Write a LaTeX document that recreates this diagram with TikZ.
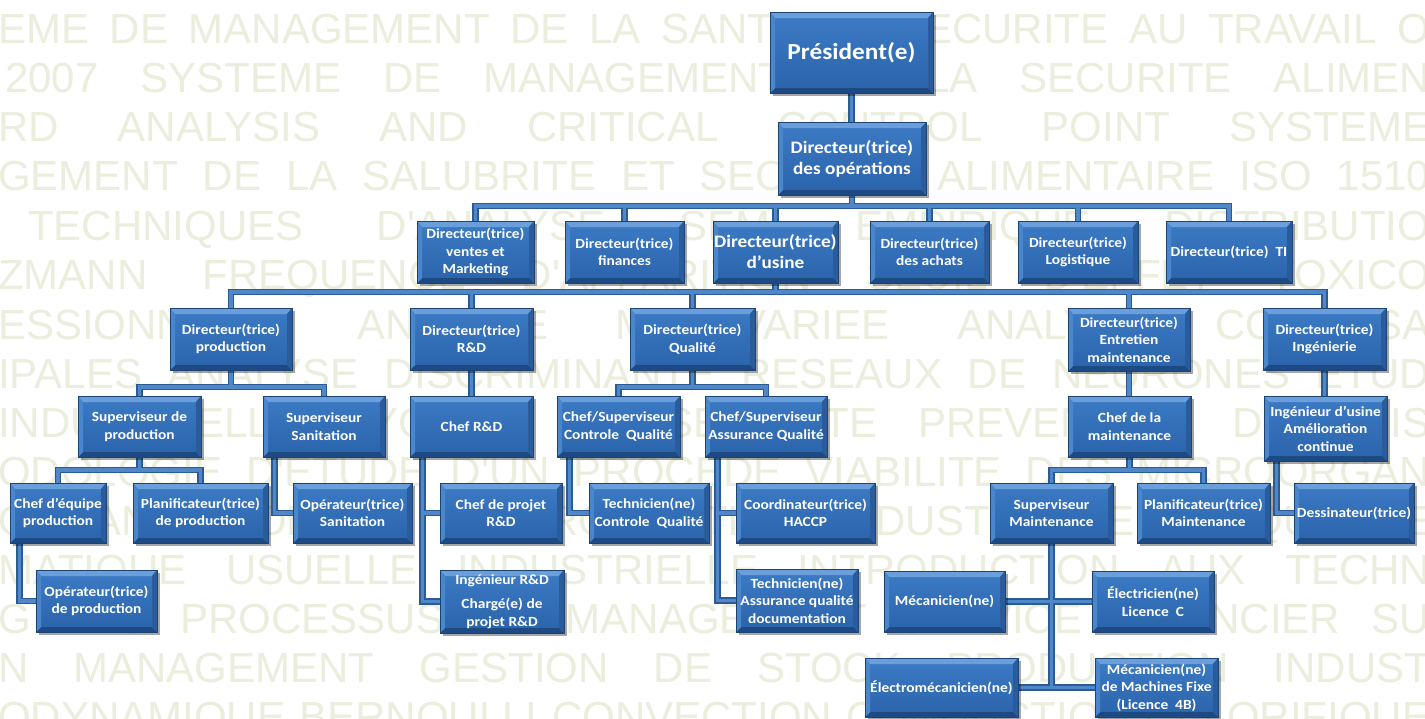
\documentclass[tikz,border=0pt]{standalone}
\usepackage{fontspec}
\setmainfont{Carlito}[FakeStretch=1.1]
\newfontfamily\wmfont{Liberation Sans}
\usetikzlibrary{shadows,calc}
\pgfdeclarelayer{wmlayer}
\pgfdeclarelayer{connlayer}
\pgfsetlayers{wmlayer,connlayer,main}
\definecolor{wmcol}{RGB}{235,237,221}
\definecolor{facetop}{HTML}{3C7BC5}
\definecolor{facebot}{HTML}{2A63AA}
\definecolor{bevT}{HTML}{6A9FDC}
\definecolor{bevL}{HTML}{4A86CC}
\definecolor{bevR}{HTML}{2A5C9C}
\definecolor{bevB}{HTML}{1E4A84}
\definecolor{boxline}{HTML}{1B4374}
\definecolor{connout}{HTML}{2B5B95}
\definecolor{connin}{HTML}{5087C9}
\tikzset{
  bevel/.style={path picture={
    \fill[bevT] let \p1=(path picture bounding box.south west), \p2=(path picture bounding box.north east) in
      (\x1,\y2) -- (\x2,\y2) -- (\x2-5pt,\y2-6pt) -- (\x1+5pt,\y2-6pt) -- cycle;
    \fill[bevB] let \p1=(path picture bounding box.south west), \p2=(path picture bounding box.north east) in
      (\x1,\y1) -- (\x2,\y1) -- (\x2-5pt,\y1+5pt) -- (\x1+5pt,\y1+5pt) -- cycle;
    \fill[bevL] let \p1=(path picture bounding box.south west), \p2=(path picture bounding box.north east) in
      (\x1,\y1) -- (\x1,\y2) -- (\x1+5pt,\y2-6pt) -- (\x1+5pt,\y1+5pt) -- cycle;
    \fill[bevR] let \p1=(path picture bounding box.south west), \p2=(path picture bounding box.north east) in
      (\x2,\y1) -- (\x2,\y2) -- (\x2-5pt,\y2-6pt) -- (\x2-5pt,\y1+5pt) -- cycle;
  }},
  box/.style={rectangle, draw=boxline, line width=0.8pt, top color=facetop, bottom color=facebot,
    text=white, align=center, inner sep=0pt, font=\bfseries\fontsize{14}{17.5}\selectfont,
    drop shadow={shadow xshift=2.5pt, shadow yshift=-3pt, opacity=0.35, fill=black}, bevel},
  big/.style={font=\bfseries\fontsize{17.5}{21}\selectfont},
  wm/.style={anchor=base west, inner sep=0pt, text=wmcol, font=\wmfont\fontsize{42}{42}\selectfont}
}
\newcommand\bx[7][]{%
  \pgfmathsetmacro\bxw{#5-#3}\pgfmathsetmacro\bxh{#6-#4}%
  \node[box,#1,minimum width=\bxw pt,minimum height=\bxh pt] (#2) at ({(#3+#5)/2},{(#4+#6)/2}) {#7};}
\newcommand\wmrow[3]{\node[wm] at (#1,#2) {\makebox[\dimexpr1430pt-#1pt\relax][s]{#3}};}
\newcommand\allconns{%
  \draw[cst] (pres.south) -- (pres.south |- ops.north);
  \draw[cst] (ventes.north) -- (ventes.north |- b2) -- (ti.north |- b2) -- (ti.north);
  \draw[cst] (ops.south) -- (ops.south |- b2);
  \foreach \n in {fin,usine,achats,logi} \draw[cst] (\n.north) -- (\n.north |- b2);
  \draw[cst] (prod.north) -- (prod.north |- b3) -- (ing.north |- b3) -- (ing.north);
  \draw[cst] (usine.south) -- (usine.south |- b3);
  \foreach \n in {rd,qual,entr} \draw[cst] (\n.north) -- (\n.north |- b3);
  \draw[cst] (supprod.north) -- (supprod.north |- b4) -- (supsan.north |- b4) -- (supsan.north);
  \draw[cst] (prod.south) -- (prod.south |- b4);
  \draw[cst] (rd.south) -- (chefrd.north);
  \draw[cst] (chefcq.north) -- (chefcq.north |- b4) -- (chefaq.north |- b4) -- (chefaq.north);
  \draw[cst] (qual.south) -- (qual.south |- b4);
  \draw[cst] (entr.south) -- (entr.south |- chefmaint.north);
  \draw[cst] (ing.south) -- (ing.south |- ingusine.north);
  \draw[cst] (chefeq.north) -- (chefeq.north |- b5) -- (planprod.north |- b5) -- (planprod.north);
  \draw[cst] (supprod.south) -- (supprod.south |- b5);
  \draw[cst] (supsan.south west) ++(12,0) |- (opsan.west);
  \draw[cst] (chefrd.south west) ++(13,0) |- (ingrd.west);
  \draw[cst] (chefrd.south west) ++(13,0) |- (chefproj.west);
  \draw[cst] (chefcq.south west) ++(13,0) |- (techcq.west);
  \draw[cst] (chefaq.south west) ++(13,0) |- (techaq.west);
  \draw[cst] (chefaq.south west) ++(13,0) |- (coord.west);
  \draw[cst] (supmaint.north) -- (supmaint.north |- b5) -- (planmaint.north |- b5) -- (planmaint.north);
  \draw[cst] (chefmaint.south) -- (chefmaint.south |- b5);
  \draw[cst] (ingusine.south west) ++(13,0) |- (dess.west);
  \draw[cst] (chefeq.south west) ++(10,0) |- (opprod.west);
  \draw[cst] (supmaint.south) -- (supmaint.south |- electromeca.east);
  \draw[cst] (meca.east) -- (elec.west);
  \draw[cst] (electromeca.east) -- (mecmf.west);
}
\begin{document}
\begin{tikzpicture}[x=1pt,y=-1pt]
\useasboundingbox (0,0) rectangle (1425,718);
\begin{pgfonlayer}{wmlayer}
\fill[white] (0,0) rectangle (1425,718);
\begin{scope}
\clip (0,0) rectangle (1425,718);
\wmrow{-2}{43}{EME DE MANAGEMENT DE LA SANTE ET SECURITE AU TRAVAIL O}
\wmrow{5}{92}{2007 SYSTEME DE MANAGEMENT DE LA SECURITE ALIMEN}
\wmrow{-2}{141}{RD ANALYSIS AND CRITICAL CONTROL POINT SYSTEME}
\wmrow{-2}{190}{GEMENT DE LA SALUBRITE ET SECURITE ALIMENTAIRE ISO 1510}
\wmrow{28}{240}{TECHNIQUES D'ANALYSE SEMI EMPIRIQUE DISTRIBUTIO}
\wmrow{-2}{289}{ZMANN FREQUENCE D'APPARITION SEUIL D'EFFET TOXICO}
\wmrow{-2}{339}{ESSIONNELLE ANALYSE MULTIVARIEE ANALYSE COMPOSA}
\wmrow{-2}{388}{IPALES ANALYSE DISCRIMINANTE RESEAUX DE NEURONES ETUD}
\wmrow{-2}{437}{INDUSTRIELLE HYGIENE ET SECURITE PREVENTION DES RIS}
\wmrow{-2}{486}{ODOLOGIE D'ETUDE D'UN PROCEDE VIABILITE DES MICROORGAN}
\wmrow{-2}{535}{ORGANISATION DE LA PRODUCTION INDUSTRIELLE ET QUALITE}
\wmrow{-2}{584}{MATIQUE USUELLE INDUSTRIELLE INTRODUCTION AUX TECHN}
\wmrow{-2}{633}{G DES PROCESSUS DE MANAGEMENT SERVICE FINANCIER SU}
\wmrow{-2}{682}{N MANAGEMENT GESTION DE STOCK PRODUCTION INDUST}
\wmrow{-2}{731}{ODYNAMIQUE BERNOULLI CONVECTION CONDUCTION CALORIFIQUE}
\end{scope}
\end{pgfonlayer}
% level 0-1
\bx[font=\bfseries\fontsize{23}{27}\selectfont]{pres}{770}{12}{933}{93}{Président(e)}
\bx[big]{ops}{778}{122}{926}{195}{Directeur(trice)\\des opérations}
% level 2
\bx{ventes}{417}{221}{534}{283}{Directeur(trice)\\ventes et\\Marketing}
\bx{fin}{565}{221}{684}{283}{Directeur(trice)\\finances}
\bx[big]{usine}{713}{221}{838}{283}{Directeur(trice)\\d'usine}
\bx{achats}{870}{221}{989}{283}{Directeur(trice)\\des achats}
\bx{logi}{1018}{221}{1138}{283}{Directeur(trice)\\Logistique}
\bx{ti}{1166}{221}{1292}{283}{Directeur(trice)\ \ TI}
% level 3
\bx{prod}{170}{308}{292}{370}{Directeur(trice)\\production}
\bx{rd}{410}{308}{533}{370}{Directeur(trice)\\R\&D}
\bx{qual}{630}{308}{755}{370}{Directeur(trice)\\Qualité}
\bx{entr}{1068}{308}{1190}{371}{Directeur(trice)\\Entretien\\maintenance}
\bx{ing}{1263}{308}{1386}{370}{Directeur(trice)\\Ingénierie}
% level 4
\bx{supprod}{78}{396}{201}{457}{Superviseur de\\production}
\bx{supsan}{263}{396}{385}{457}{Superviseur\\Sanitation}
\bx{chefrd}{410}{396}{533}{457}{Chef R\&D}
\bx{chefcq}{557}{396}{680}{457}{Chef/Superviseur\\Controle\ \ Qualité}
\bx{chefaq}{705}{396}{827}{457}{Chef/Superviseur\\Assurance Qualité}
\bx{chefmaint}{1068}{396}{1191}{457}{Chef de la\\maintenance}
\bx{ingusine}{1264}{396}{1387}{461}{Ingénieur d'usine\\Amélioration\\continue}
% level 5
\bx{chefeq}{10}{483}{106}{543}{Chef d'équipe\\production}
\bx{planprod}{133}{483}{268}{543}{Planificateur(trice)\\de production}
\bx{opsan}{293}{483}{412}{543}{Opérateur(trice)\\Sanitation}
\bx{chefproj}{440}{483}{562}{543}{Chef de projet\\R\&D}
\bx{techcq}{589}{483}{709}{543}{Technicien(ne)\\Controle\ \ Qualité}
\bx{coord}{736}{483}{875}{543}{Coordinateur(trice)\\HACCP}
\bx{supmaint}{990}{483}{1113}{543}{Superviseur\\Maintenance}
\bx{planmaint}{1137}{483}{1270}{543}{Planificateur(trice)\\Maintenance}
\bx{dess}{1294}{483}{1414}{543}{Dessinateur(trice)}
% level 6
\bx{opprod}{36}{570}{157}{632}{Opérateur(trice)\\de production}
\bx{ingrd}{440}{570}{564}{633}{Ingénieur R\&D\\[7pt]Chargé(e) de\\projet R\&D}
\bx{techaq}{736}{569}{858}{632}{Technicien(ne)\\Assurance qualité\\documentation}
\bx{meca}{884}{571}{1005}{632}{Mécanicien(ne)}
\bx{elec}{1092}{571}{1214}{632}{Électricien(ne)\\Licence\ \ C}
\bx{electromeca}{865}{658}{1018}{717}{Électromécanicien(ne)}
\bx{mecmf}{1095}{658}{1218}{717}{Mécanicien(ne)\\de Machines Fixe\\(Licence\ \ 4B)}
% bus levels
\coordinate (b2) at (0,206);
\coordinate (b3) at (0,292);
\coordinate (b4) at (0,387);
\coordinate (b5) at (0,470);
\begin{pgfonlayer}{connlayer}
\begin{scope}[cst/.style={draw=connout,line width=6.5pt}]
\allconns
\end{scope}
\begin{scope}[cst/.style={draw=connin,line width=3.5pt}]
\allconns
\end{scope}
\end{pgfonlayer}
\end{tikzpicture}
\end{document}
